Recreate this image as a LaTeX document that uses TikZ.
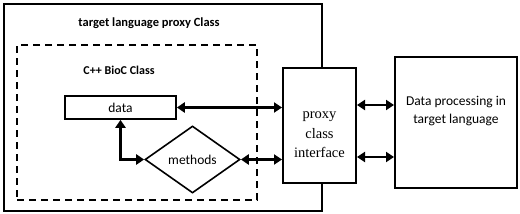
\documentclass[tikz,border=0pt]{standalone}
\usepackage{fontspec}
\setmainfont{Carlito}
\newfontfamily\serifit{Liberation Serif}
\usetikzlibrary{arrows.meta,shapes.geometric}
\begin{document}
\begin{tikzpicture}[x=1pt,y=-1pt,
  boxthick/.style={draw,line width=2pt},
  arr/.style={line width=2.6pt,{Triangle[length=8pt,width=10pt]}-{Triangle[length=8pt,width=10pt]}},
  lbl/.style={font=\fontsize{12}{14}\selectfont\bfseries},
  txt/.style={font=\fontsize{13.5}{18}\selectfont}]
\useasboundingbox (0,0) rectangle (520,214);
\node[boxthick,minimum width=318pt,minimum height=207pt,inner sep=0pt] (outer) at (162.5,107) {};
\node[lbl,font=\fontsize{12.5}{14}\selectfont\bfseries] (t1) at (149,23) {target language proxy Class};
\node[draw,line width=1.6pt,dash pattern=on 7pt off 5pt,minimum width=240pt,minimum height=155pt,inner sep=0pt] (dash) at (137,122.5) {};
\node[lbl] (t2) at (119,70) {C++ BioC Class};
\node[draw,line width=1.6pt,minimum width=111pt,minimum height=23pt,inner sep=0pt,txt] (data) at (120.5,107.5) {data};
\node[draw,line width=1.6pt,diamond,minimum width=95pt,minimum height=67pt,inner sep=0pt,aspect=1.42,txt] (methods) at (192.5,159.5) {methods};
\node[boxthick,fill=white,minimum width=73pt,minimum height=115pt,inner sep=0pt] (proxy) at (319.5,125.5) {};
\node[align=center,font=\serifit\fontsize{14.5}{19.5}\selectfont] (proxyt) at (319.5,135) {proxy\\class\\interface};
\node[boxthick,minimum width=122pt,minimum height=131pt,inner sep=0pt] (dp) at (456,122.5) {};
\node[align=center,txt] (dpt) at (456,111) {Data processing in\\target language};
\draw[arr] (data.east) -- (data.east -| proxy.west);
\draw[arr] (methods.east) -- (methods.east -| proxy.west);
\draw[arr] (data.south) |- (methods.west);
\draw[arr] (proxy.east |- 0,105) coordinate (p1) -- (p1 -| dp.west);
\draw[arr] (proxy.east |- 0,157) coordinate (p2) -- (p2 -| dp.west);
\end{tikzpicture}
\end{document}
